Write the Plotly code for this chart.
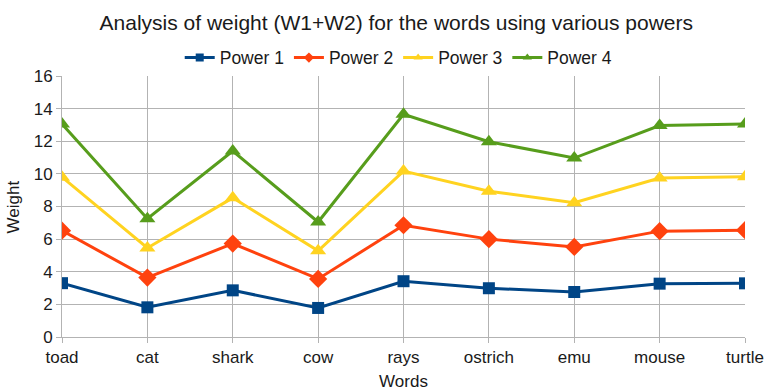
import plotly.graph_objects as go

# Words on the x axis
words = ["toad", "cat", "shark", "cow", "rays", "ostrich", "emu", "mouse", "turtle"]

# Weight (W1+W2) per word for each power
power_1 = [3.3, 1.82, 2.86, 1.78, 3.42, 2.99, 2.76, 3.27, 3.29]
power_2 = [6.52, 3.64, 5.73, 3.56, 6.85, 6.0, 5.52, 6.49, 6.55]
power_3 = [9.8, 5.46, 8.53, 5.28, 10.17, 8.94, 8.23, 9.74, 9.82]
power_4 = [13.05, 7.25, 11.4, 7.05, 13.65, 11.97, 10.97, 12.96, 13.06]

series = [
    ("Power 1", power_1, "#004586", "square", 12),
    ("Power 2", power_2, "#ff420e", "diamond", 14),
    ("Power 3", power_3, "#ffd320", "triangle-up", 14),
    ("Power 4", power_4, "#579d1c", "triangle-up", 14),
]

font_family = "Liberation Sans, Arial, sans-serif"
text_color = "#1a1a1a"

fig = go.Figure()
for name, vals, color, sym, size in series:
    fig.add_trace(go.Scatter(
        x=list(range(len(words))), y=vals, name=name, mode="lines+markers",
        line=dict(color=color, width=3),
        marker=dict(symbol=sym, size=size, color=color),
        showlegend=False,
    ))
# legend entries with small markers on the line
for name, vals, color, sym, size in series:
    fig.add_trace(go.Scatter(
        x=[None], y=[None], name=name, mode="lines+markers",
        line=dict(color=color, width=3),
        marker=dict(symbol=sym, size=8, color=color),
        showlegend=True,
    ))

fig.update_layout(
    width=765, height=391,
    margin=dict(l=62, r=20, t=76, b=54),
    paper_bgcolor="white", plot_bgcolor="white",
    font=dict(family=font_family, size=17, color=text_color),
    title=dict(text="Analysis of weight (W1+W2) for the words using various powers",
               x=0.518, xanchor="center", y=0.943, yanchor="middle",
               font=dict(size=21, color=text_color)),
    legend=dict(orientation="h", x=0.493, xanchor="center", y=1.07, yanchor="middle",
                font=dict(size=17.5), tracegroupgap=0, bgcolor="rgba(0,0,0,0)"),
    showlegend=True,
    annotations=[dict(
        text="Weight", textangle=-90, xref="paper", yref="paper",
        x=-0.0703, y=0.5, xanchor="center", yanchor="middle",
        showarrow=False, font=dict(size=17, color=text_color),
    )],
)
fig.update_xaxes(
    tickmode="array", tickvals=list(range(len(words))), ticktext=words,
    range=[0, len(words) - 1], showgrid=True, gridcolor="#b3b3b3", gridwidth=1,
    ticks="outside", ticklen=5, tickcolor="#b3b3b3",
    showline=True, linecolor="#b3b3b3", zeroline=False,
    title=dict(text="Words", font=dict(size=17)),
    tickfont=dict(size=17), automargin=False,
)
fig.update_yaxes(
    range=[0, 16], dtick=2, showgrid=True, gridcolor="#b3b3b3", gridwidth=1,
    ticks="outside", ticklen=5, tickcolor="#b3b3b3",
    showline=True, linecolor="#b3b3b3", zeroline=False,
    tickfont=dict(size=17), automargin=False,
)

fig.write_html("out.html")
